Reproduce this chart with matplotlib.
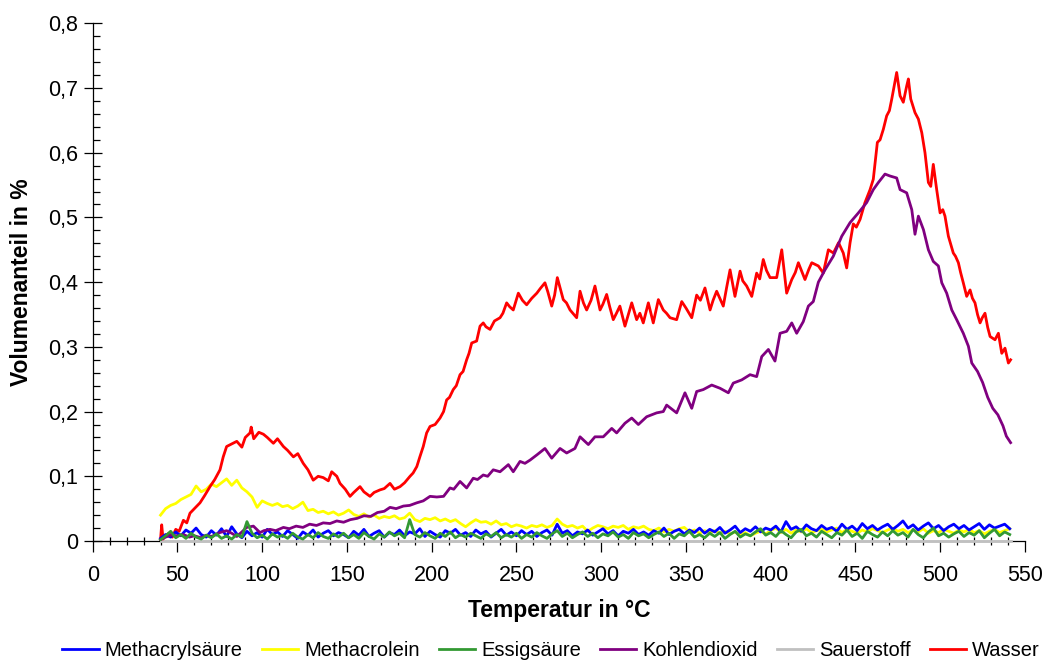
import numpy as np
import matplotlib
matplotlib.use("Agg")
import matplotlib.pyplot as plt
from matplotlib.ticker import MultipleLocator, FuncFormatter

plt.rcParams['font.family'] = ['Liberation Sans', 'DejaVu Sans']

# ---------------- data ----------------
series_names = ["Methacrylsäure", "Methacrolein", "Essigsäure", "Kohlendioxid", "Sauerstoff", "Wasser"]
series_colors = ["#0000ff", "#ffff00", "#339933", "#800080", "#c0c0c0", "#ff0000"]

# common temperature grid for the low-level signals (°C)
T_small = np.arange(40, 542, 3)

methacrylsaeure = [
    0.004, 0.010, 0.006, 0.014, 0.008, 0.017, 0.012, 0.020, 0.010, 0.006, 0.016, 0.009,
    0.019, 0.007, 0.022, 0.011, 0.005, 0.015, 0.008, 0.013, 0.006, 0.018, 0.010, 0.014,
    0.007, 0.016, 0.010, 0.004, 0.014, 0.009, 0.017, 0.006, 0.012, 0.016, 0.008, 0.013,
    0.010, 0.005, 0.015, 0.009, 0.018, 0.007, 0.012, 0.016, 0.006, 0.013, 0.010, 0.017,
    0.008, 0.014, 0.011, 0.019, 0.007, 0.015, 0.010, 0.006, 0.016, 0.012, 0.018, 0.009,
    0.013, 0.007, 0.017, 0.011, 0.015, 0.006, 0.012, 0.018, 0.009, 0.014, 0.008, 0.016,
    0.010, 0.015, 0.007, 0.013, 0.017, 0.009, 0.026, 0.012, 0.016, 0.008, 0.014, 0.011,
    0.017, 0.009, 0.014, 0.019, 0.011, 0.016, 0.008, 0.015, 0.012, 0.018, 0.010, 0.014,
    0.009, 0.016, 0.012, 0.020, 0.010, 0.015, 0.018, 0.011, 0.017, 0.013, 0.020, 0.012,
    0.018, 0.014, 0.021, 0.012, 0.017, 0.023, 0.013, 0.019, 0.015, 0.022, 0.014, 0.020,
    0.017, 0.023, 0.014, 0.030, 0.018, 0.022, 0.015, 0.025, 0.019, 0.016, 0.024, 0.018,
    0.021, 0.015, 0.026, 0.018, 0.023, 0.016, 0.027, 0.019, 0.024, 0.017, 0.022, 0.026,
    0.018, 0.024, 0.031, 0.020, 0.025, 0.017, 0.023, 0.028, 0.019, 0.024, 0.016, 0.022,
    0.026, 0.019, 0.024, 0.017, 0.022, 0.027, 0.018, 0.025, 0.020, 0.023, 0.026, 0.019,
]

methacrolein = [
    0.040, 0.050, 0.055, 0.058, 0.064, 0.068, 0.072, 0.085, 0.076, 0.080, 0.088, 0.084,
    0.090, 0.096, 0.086, 0.094, 0.082, 0.076, 0.068, 0.052, 0.062, 0.058, 0.055, 0.058,
    0.053, 0.055, 0.050, 0.054, 0.060, 0.047, 0.049, 0.044, 0.046, 0.042, 0.045, 0.040,
    0.043, 0.048, 0.041, 0.038, 0.042, 0.037, 0.040, 0.035, 0.038, 0.036, 0.039, 0.034,
    0.036, 0.043, 0.033, 0.030, 0.035, 0.033, 0.036, 0.031, 0.034, 0.030, 0.033, 0.027,
    0.022, 0.028, 0.033, 0.029, 0.030, 0.026, 0.031, 0.025, 0.027, 0.022, 0.025, 0.023,
    0.020, 0.024, 0.022, 0.025, 0.021, 0.024, 0.034, 0.026, 0.022, 0.024, 0.020, 0.023,
    0.015, 0.020, 0.024, 0.022, 0.019, 0.023, 0.021, 0.024, 0.018, 0.022, 0.020, 0.023,
    0.018, 0.016, 0.020, 0.014, 0.018, 0.015, 0.019, 0.021, 0.014, 0.017, 0.012, 0.016,
    0.013, 0.016, 0.012, 0.015, 0.011, 0.014, 0.010, 0.013, 0.008, 0.012, 0.015, 0.011,
    0.016, 0.020, 0.013, 0.018, 0.012, 0.017, 0.014, 0.019, 0.013, 0.016, 0.018, 0.014,
    0.017, 0.020, 0.013, 0.018, 0.015, 0.012, 0.017, 0.014, 0.019, 0.016, 0.013, 0.017,
    0.020, 0.015, 0.018, 0.013, 0.017, 0.014, 0.019, 0.012, 0.016, 0.013, 0.018, 0.015,
    0.012, 0.017, 0.014, 0.018, 0.013, 0.016, 0.011, 0.015, 0.018, 0.013, 0.016, 0.019,
]

essigsaeure = [
    0.002, 0.008, 0.015, 0.005, 0.010, 0.004, 0.012, 0.006, 0.003, 0.009, 0.005, 0.011,
    0.004, 0.008, 0.003, 0.010, 0.006, 0.030, 0.012, 0.005, 0.009, 0.003, 0.011, 0.006,
    0.009, 0.004, 0.012, 0.006, 0.003, 0.010, 0.005, 0.013, 0.007, 0.004, 0.011, 0.006,
    0.012, 0.005, 0.010, 0.004, 0.013, 0.007, 0.003, 0.011, 0.006, 0.014, 0.008, 0.012,
    0.005, 0.033, 0.010, 0.006, 0.013, 0.008, 0.004, 0.012, 0.007, 0.014, 0.005, 0.010,
    0.006, 0.012, 0.008, 0.004, 0.011, 0.007, 0.013, 0.005, 0.010, 0.006, 0.012, 0.004,
    0.010, 0.006, 0.013, 0.008, 0.004, 0.011, 0.016, 0.007, 0.012, 0.005, 0.010, 0.014,
    0.007, 0.012, 0.005, 0.011, 0.008, 0.014, 0.006, 0.010, 0.004, 0.013, 0.008, 0.011,
    0.005, 0.010, 0.014, 0.007, 0.012, 0.004, 0.011, 0.008, 0.015, 0.006, 0.010, 0.005,
    0.012, 0.007, 0.013, 0.004, 0.010, 0.015, 0.006, 0.011, 0.008, 0.014, 0.019, 0.009,
    0.013, 0.007, 0.016, 0.010, 0.005, 0.014, 0.018, 0.008, 0.012, 0.006, 0.015, 0.010,
    0.005, 0.013, 0.009, 0.017, 0.007, 0.012, 0.004, 0.015, 0.010, 0.006, 0.014, 0.008,
    0.016, 0.009, 0.013, 0.006, 0.018, 0.010, 0.005, 0.014, 0.020, 0.008, 0.012, 0.006,
    0.011, 0.015, 0.007, 0.013, 0.009, 0.016, 0.005, 0.012, 0.018, 0.008, 0.014, 0.010,
]

kohlendioxid_T = [
    40, 43, 46, 50, 53.5, 57, 60, 64, 67, 70,
    75, 79, 82, 85, 88, 90.8, 94.8, 98.7, 101, 104.6,
    108, 112.5, 116, 120, 124, 128, 132, 136, 140, 144,
    148, 152, 156, 160, 164, 168, 172, 175.4, 179, 183.3,
    187, 191.2, 195, 199, 203, 207, 210.8, 213, 216.7, 220.6,
    224.5, 227, 230.4, 233, 236.3, 240.3, 245.2, 248.1, 252.1, 255,
    258, 262, 266.8, 270.8, 275.7, 279.6, 284.5, 287.5, 292.4, 296.3,
    301.2, 306.2, 309.1, 314, 318, 321.9, 326.8, 332.7, 336.6, 338.6,
    344.5, 349.4, 353.4, 356.3, 360.2, 365.2, 370.1, 375, 377.9, 382.9,
    387.8, 391.7, 394.7, 398.6, 402.5, 405.5, 409.4, 412.4, 415.3, 419.2,
    422.2, 425.1, 428.1, 432, 436.9, 441.9, 446.8, 451.7, 456.6, 460.5,
    463.5, 467.4, 470.4, 474.3, 476.3, 480.2, 483.2, 485.1, 487.1, 490.1,
    493, 495.9, 498.9, 500.9, 503.8, 506.8, 509.7, 513.6, 516.6, 518.6,
    522, 525, 528, 531, 534, 537, 539, 541.5,
]
kohlendioxid = [
    0.002, 0.006, 0.009, 0.008, 0.010, 0.006, 0.008, 0.005, 0.009, 0.007,
    0.013, 0.016, 0.012, 0.007, 0.014, 0.021, 0.023, 0.013, 0.016, 0.018,
    0.016, 0.021, 0.019, 0.023, 0.021, 0.026, 0.024, 0.028, 0.027, 0.031,
    0.029, 0.033, 0.035, 0.039, 0.038, 0.044, 0.046, 0.052, 0.050, 0.054,
    0.055, 0.059, 0.062, 0.069, 0.068, 0.069, 0.082, 0.080, 0.092, 0.082,
    0.097, 0.095, 0.102, 0.100, 0.110, 0.107, 0.118, 0.107, 0.123, 0.120,
    0.125, 0.133, 0.143, 0.128, 0.143, 0.136, 0.143, 0.161, 0.149, 0.161,
    0.161, 0.174, 0.167, 0.182, 0.190, 0.180, 0.192, 0.198, 0.200, 0.210,
    0.198, 0.229, 0.205, 0.231, 0.234, 0.241, 0.236, 0.229, 0.244, 0.249,
    0.257, 0.254, 0.285, 0.296, 0.278, 0.321, 0.324, 0.337, 0.321, 0.339,
    0.363, 0.370, 0.400, 0.419, 0.440, 0.471, 0.492, 0.507, 0.523, 0.543,
    0.554, 0.567, 0.564, 0.561, 0.543, 0.538, 0.512, 0.474, 0.502, 0.481,
    0.450, 0.432, 0.425, 0.399, 0.383, 0.357, 0.342, 0.321, 0.301, 0.275,
    0.262, 0.245, 0.222, 0.205, 0.195, 0.178, 0.162, 0.152,
]

sauerstoff_T = [40, 542]
sauerstoff = [0.0, 0.0]

wasser_T = [
    40, 40.7, 41.5, 43, 45, 47, 49, 51, 53.5, 55.5,
    57.4, 60, 63.3, 66, 69.2, 72, 75.1, 77, 79, 82,
    85, 88, 90, 92.8, 93.5, 95, 98, 100.7, 103, 106.6,
    109, 112.5, 115, 118.4, 121, 124.2, 127, 130.1, 133, 136,
    139, 141, 144, 145.9, 149, 151.8, 154, 157.7, 160, 163.6,
    166, 169.5, 172, 175.4, 178, 181.3, 184, 187.2, 189, 191.2,
    193, 195, 197, 199, 202, 204.9, 207, 208.8, 210.5, 212.7,
    214.5, 216.7, 218.5, 220.6, 222, 223.6, 226.5, 228.5, 230.4, 232,
    234.4, 237, 240.3, 242, 244.2, 246, 248.1, 251.1, 253.5, 256,
    259, 262, 264, 266.8, 268.5, 270.8, 272.5, 274.1, 277.6, 279.5,
    281.6, 285.5, 287.5, 289.5, 291.4, 294, 296.3, 299.3, 301, 303.2,
    305, 307.1, 309, 311, 314, 316, 318, 320.9, 322.8, 324.8,
    327.8, 330.7, 333.7, 336.6, 338.5, 340.6, 344.5, 347.5, 350, 353.4,
    356.3, 358.5, 361.2, 364.2, 366, 368.1, 372, 374, 376, 378.9,
    381.9, 383.5, 385.8, 388.8, 391.7, 393.5, 395.6, 397.5, 399.6, 403.5,
    406.5, 409.4, 412.4, 414.5, 416.3, 420.2, 422.5, 424.2, 428.1, 431,
    434, 437, 440, 442.8, 444.8, 446.8, 448.7, 450.5, 452.7, 455.6,
    458.6, 460.5, 462.9, 464.5, 466.4, 468.4, 470, 471.4, 474.3, 476.3,
    478.2, 480.2, 481.2, 482.6, 485.1, 487.1, 489.1, 491, 493, 494.4,
    495.9, 497.9, 499.9, 501.5, 502.8, 504.8, 506, 507.7, 509, 510.7,
    512, 513.6, 515.6, 517.6, 519, 520.5, 522, 523.5, 524.8, 526.4,
    528, 529.4, 532.3, 534.3, 536.3, 538.2, 540.2, 541.5,
]
wasser = [
    0.002, 0.025, 0.003, 0.008, 0.012, 0.006, 0.018, 0.015, 0.032, 0.028,
    0.043, 0.050, 0.059, 0.070, 0.084, 0.095, 0.110, 0.130, 0.146, 0.150,
    0.154, 0.145, 0.160, 0.167, 0.176, 0.158, 0.168, 0.165, 0.160, 0.151,
    0.158, 0.146, 0.140, 0.130, 0.135, 0.120, 0.110, 0.094, 0.100, 0.098,
    0.093, 0.107, 0.100, 0.089, 0.080, 0.069, 0.075, 0.084, 0.076, 0.069,
    0.075, 0.079, 0.081, 0.089, 0.080, 0.084, 0.090, 0.100, 0.105, 0.115,
    0.130, 0.146, 0.167, 0.177, 0.180, 0.190, 0.200, 0.218, 0.222, 0.234,
    0.240, 0.257, 0.262, 0.280, 0.290, 0.306, 0.309, 0.332, 0.337, 0.331,
    0.327, 0.340, 0.345, 0.352, 0.368, 0.362, 0.357, 0.383, 0.372, 0.365,
    0.375, 0.383, 0.390, 0.399, 0.385, 0.363, 0.380, 0.407, 0.373, 0.368,
    0.357, 0.345, 0.386, 0.368, 0.357, 0.372, 0.394, 0.357, 0.366, 0.381,
    0.362, 0.342, 0.352, 0.363, 0.332, 0.350, 0.368, 0.342, 0.352, 0.337,
    0.368, 0.337, 0.373, 0.357, 0.352, 0.345, 0.342, 0.370, 0.360, 0.345,
    0.380, 0.372, 0.391, 0.357, 0.372, 0.386, 0.363, 0.392, 0.419, 0.378,
    0.417, 0.402, 0.394, 0.378, 0.414, 0.405, 0.435, 0.418, 0.407, 0.407,
    0.450, 0.383, 0.404, 0.415, 0.430, 0.404, 0.420, 0.430, 0.425, 0.414,
    0.450, 0.445, 0.461, 0.445, 0.422, 0.461, 0.490, 0.485, 0.497, 0.523,
    0.543, 0.559, 0.616, 0.620, 0.636, 0.657, 0.665, 0.683, 0.724, 0.688,
    0.678, 0.703, 0.714, 0.683, 0.662, 0.652, 0.631, 0.600, 0.554, 0.548,
    0.582, 0.543, 0.507, 0.512, 0.502, 0.471, 0.460, 0.445, 0.440, 0.430,
    0.415, 0.399, 0.378, 0.388, 0.375, 0.368, 0.350, 0.337, 0.345, 0.352,
    0.330, 0.316, 0.311, 0.321, 0.290, 0.298, 0.275, 0.280,
]

x_label = "Temperatur in °C"
y_label = "Volumenanteil in %"

# ---------------- figure ----------------
fig = plt.figure(figsize=(10.52, 6.62), dpi=100)
W, H = 1052, 662
x0, x1, y0, y1 = 92.7, 1025, 541, 23.3
ax = fig.add_axes([x0 / W, (H - y0) / H, (x1 - x0) / W, (y0 - y1) / H])

lw = 2.0
ax.plot(T_small, methacrylsaeure, color=series_colors[0], lw=lw, label=series_names[0], zorder=4)
ax.plot(T_small, methacrolein, color=series_colors[1], lw=lw, label=series_names[1], zorder=3.5)
ax.plot(T_small, essigsaeure, color=series_colors[2], lw=lw, label=series_names[2], zorder=4.2)
ax.plot(kohlendioxid_T, kohlendioxid, color=series_colors[3], lw=lw, label=series_names[3], zorder=4)
ax.plot(sauerstoff_T, sauerstoff, color=series_colors[4], lw=2.0, label=series_names[4], zorder=3, clip_on=False)
ax.plot(wasser_T, wasser, color=series_colors[5], lw=lw, label=series_names[5], zorder=3.8)

ax.set_xlim(0, 550)
ax.set_ylim(0, 0.8)

for s in ["top", "right"]:
    ax.spines[s].set_visible(False)
for s in ["left", "bottom"]:
    ax.spines[s].set_color("#000000")
    ax.spines[s].set_linewidth(0.9)

ax.xaxis.set_major_locator(MultipleLocator(50))
ax.xaxis.set_minor_locator(MultipleLocator(10))
ax.yaxis.set_major_locator(MultipleLocator(0.1))
ax.yaxis.set_minor_locator(MultipleLocator(0.02))

def yfmt(v, pos):
    if abs(v) < 1e-9:
        return "0"
    return ("%.1f" % v).replace(".", ",")

ax.yaxis.set_major_formatter(FuncFormatter(yfmt))
ax.xaxis.set_major_formatter(FuncFormatter(lambda v, p: "%d" % round(v)))

ax.tick_params(axis="y", which="major", direction="inout", length=13, width=0.9, labelsize=15.5, pad=4)
ax.tick_params(axis="y", which="minor", direction="in", length=5, width=0.9)
ax.tick_params(axis="x", which="major", direction="out", length=8, width=0.9, labelsize=15.5, pad=9)
ax.tick_params(axis="x", which="minor", direction="inout", length=6, width=0.9)

ax.set_xlabel(x_label, fontsize=16.5, fontweight="bold")
ax.set_ylabel(y_label, fontsize=16.5, fontweight="bold")
ax.xaxis.set_label_coords(0.5, -0.112)
ax.yaxis.set_label_coords(-0.064, 0.5)

handles, labels = ax.get_legend_handles_labels()
fig.legend(handles, labels, loc="center", bbox_to_anchor=(0.524, 0.018), ncol=6,
           frameon=False, fontsize=14.5, handlelength=1.8, handletextpad=0.3,
           columnspacing=0.95, borderaxespad=0)

fig.savefig("out.png", dpi=100)
